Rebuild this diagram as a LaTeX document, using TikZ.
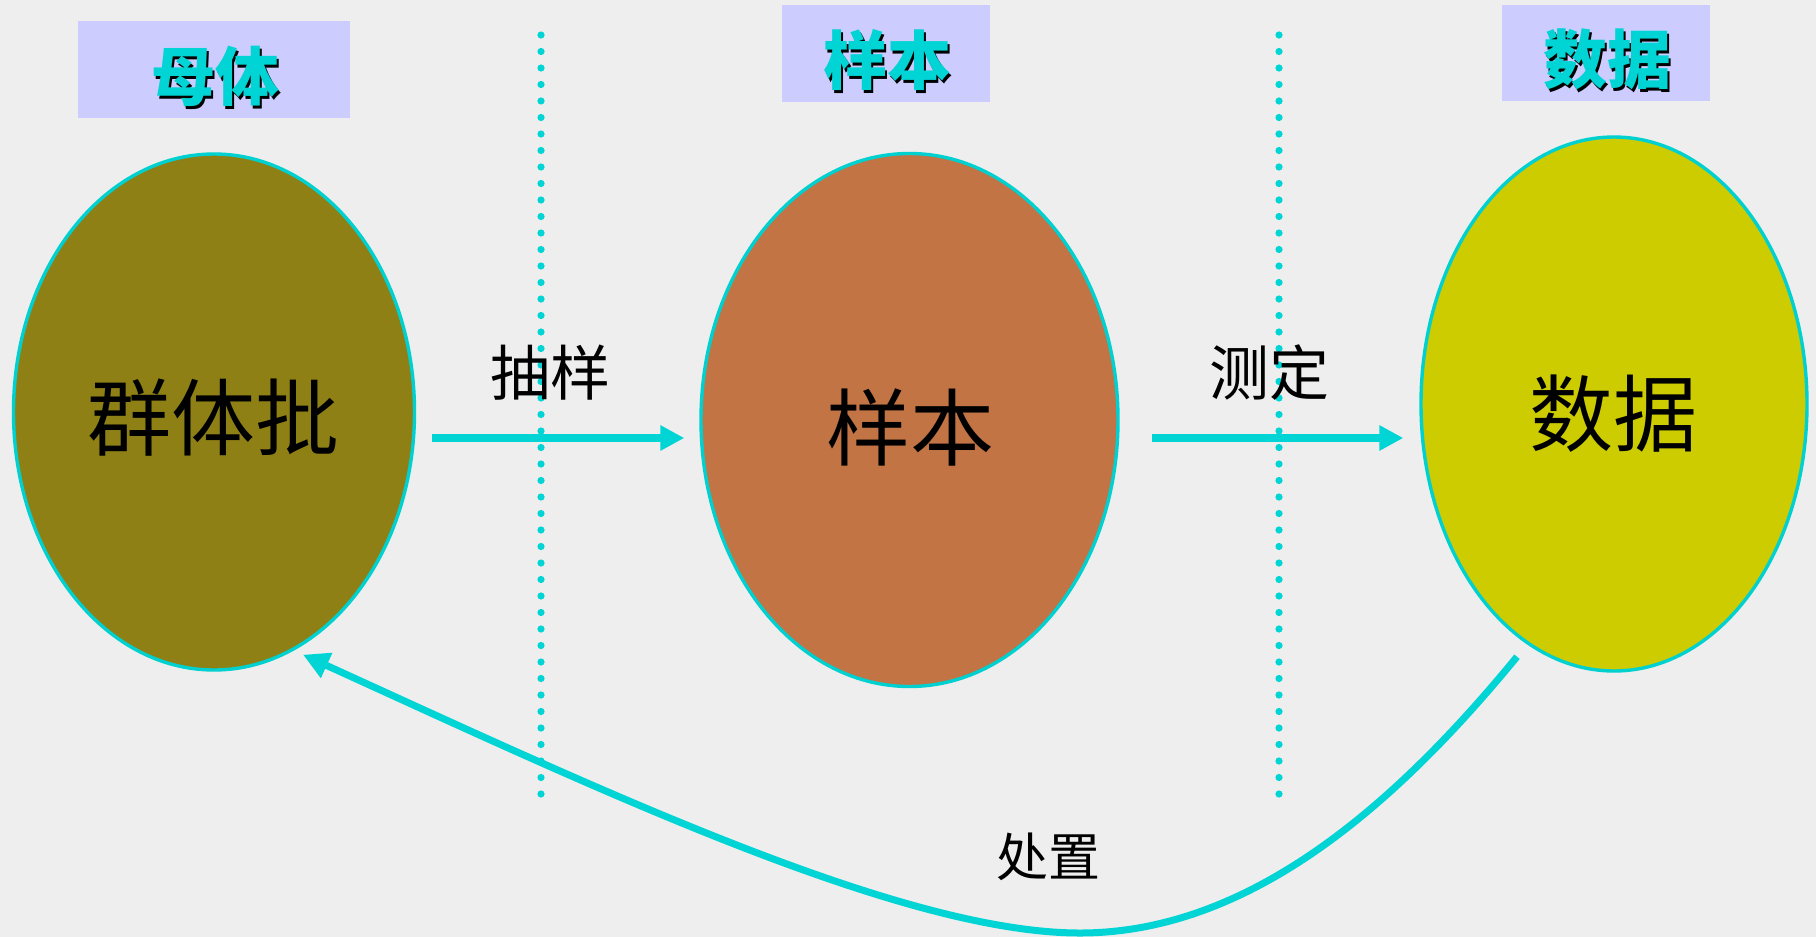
\documentclass[tikz,border=0pt]{standalone}
\usepackage{fontspec}
\usetikzlibrary{shapes.geometric,arrows.meta}
\newfontfamily\cjkf{Noto Sans CJK SC}
\definecolor{bgc}{RGB}{238,238,238}
\definecolor{tcyan}{RGB}{0,212,212}
\definecolor{bcyan}{RGB}{0,208,208}
\definecolor{boxc}{RGB}{204,204,255}
\definecolor{olivec}{RGB}{142,128,21}
\definecolor{brownc}{RGB}{194,116,68}
\definecolor{yellc}{RGB}{204,204,0}
\tikzset{
  ell/.style={ellipse,draw=bcyan,line width=1.7pt,inner sep=0pt},
  titlebox/.style={fill=boxc,inner sep=0pt},
  titletxt/.style={text=tcyan,font=\cjkf\bfseries\fontsize{32pt}{32pt}\selectfont,inner sep=0pt},
  titleshadow/.style={text=black,font=\cjkf\bfseries\fontsize{32pt}{32pt}\selectfont,inner sep=0pt},
  biglabel/.style={font=\cjkf\fontsize{42pt}{42pt}\selectfont,inner sep=0pt},
  smalllabel/.style={font=\cjkf\fontsize{30pt}{30pt}\selectfont,inner sep=0pt},
  arr/.style={draw=tcyan,line width=4pt,-{Triangle[length=12pt,width=12pt]}},
  curvearr/.style={draw=tcyan,line width=3.5pt,-{Triangle[length=13pt,width=13pt]}},
  dotline/.style={draw=tcyan,line width=3.6pt,line cap=round,dash pattern=on 0pt off 8.25pt}
}
\begin{document}
\begin{tikzpicture}[x=0.5pt,y=-0.5pt]
\fill[bgc] (0,0) rectangle (1816,937);
\useasboundingbox (0,0) rectangle (1816,937);
% dotted separators
\draw[dotline] (541,35) -- (541,805);
\draw[dotline] (1279,35) -- (1279,805);
% title boxes
\node[titlebox,minimum width=136pt,minimum height=48.5pt] (b1) at (214,69.5) {};
\node[titlebox,minimum width=104pt,minimum height=48.5pt] (b2) at (886,53.5) {};
\node[titlebox,minimum width=104pt,minimum height=48pt] (b3) at (1606,53) {};
\node[titleshadow] (s1) at (217,79) {母体};
\node[titletxt] (t1) at (215,76) {母体};
\node[titleshadow] (s2) at (889,63) {样本};
\node[titletxt] (t2) at (887,60) {样本};
\node[titleshadow] (s3) at (1609,62) {数据};
\node[titletxt] (t3) at (1607,59) {数据};
% ellipses
\node[ell,fill=olivec,minimum width=200.5pt,minimum height=258pt] (e1) at (214,412) {};
\node[ell,fill=brownc,minimum width=208.5pt,minimum height=266.5pt] (e2) at (909.5,420) {};
\node[ell,fill=yellc,minimum width=193pt,minimum height=267pt] (e3) at (1614,404) {};
\node[biglabel] (l1) at (213,418) {群体批};
\node[biglabel] (l2) at (910,427) {样本};
\node[biglabel] (l3) at (1613,414) {数据};
% arrows
\draw[arr] ([shift={(16,26)}]e1.east) -- ([shift={(-15,18)}]e2.west);
\draw[arr] ([shift={(32,18)}]e2.east) -- ([shift={(-16,34)}]e3.west);
\node[smalllabel] (a1) at (550,373) {抽样};
\node[smalllabel] (a2) at (1269,373) {测定};
% return curve
\coordinate (cs) at ([shift={(-97,-16)}]e3.south);
\coordinate (ce) at ([shift={(89,-17)}]e1.south);
\draw[curvearr] (cs) .. controls (1397,803) and (1250,934) .. (1078,933)
   .. controls (900,932) and (600,790) .. (ce);
\node[font=\cjkf\fontsize{26pt}{26pt}\selectfont,inner sep=0pt] (a3) at (1048,857) {处置};
\end{tikzpicture}
\end{document}
